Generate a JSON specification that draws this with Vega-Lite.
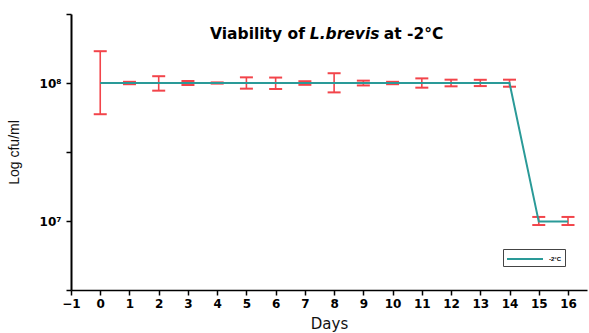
{
  "$schema": "https://vega.github.io/schema/vega-lite/v6.json",
  "width": 516,
  "height": 276,
  "autosize": {"type": "none"},
  "padding": {"left": 71, "top": 14, "right": 2, "bottom": 43},
  "background": "white",
  "config": {"view": {"stroke": null}, "font": "Liberation Sans"},
  "data": {"values": [
    {"day": 0, "mean": 100000000, "lo": 59400000, "hi": 170000000, "series": "-2°C"},
    {"day": 1, "mean": 100000000, "lo": 98000000, "hi": 102000000, "series": "-2°C"},
    {"day": 2, "mean": 100000000, "lo": 88000000, "hi": 112000000, "series": "-2°C"},
    {"day": 3, "mean": 100000000, "lo": 96700000, "hi": 103400000, "series": "-2°C"},
    {"day": 4, "mean": 100000000, "lo": 99000000, "hi": 101000000, "series": "-2°C"},
    {"day": 5, "mean": 100000000, "lo": 91000000, "hi": 109900000, "series": "-2°C"},
    {"day": 6, "mean": 100000000, "lo": 90500000, "hi": 109500000, "series": "-2°C"},
    {"day": 7, "mean": 100000000, "lo": 97000000, "hi": 103000000, "series": "-2°C"},
    {"day": 8, "mean": 100000000, "lo": 85500000, "hi": 117700000, "series": "-2°C"},
    {"day": 9, "mean": 100000000, "lo": 96000000, "hi": 104000000, "series": "-2°C"},
    {"day": 10, "mean": 100000000, "lo": 98000000, "hi": 102000000, "series": "-2°C"},
    {"day": 11, "mean": 100000000, "lo": 92500000, "hi": 108000000, "series": "-2°C"},
    {"day": 12, "mean": 100000000, "lo": 94600000, "hi": 105700000, "series": "-2°C"},
    {"day": 13, "mean": 100000000, "lo": 95000000, "hi": 105500000, "series": "-2°C"},
    {"day": 14, "mean": 100000000, "lo": 94000000, "hi": 105700000, "series": "-2°C"},
    {"day": 15, "mean": 9900000, "lo": 9350000, "hi": 10700000, "series": "-2°C"},
    {"day": 16, "mean": 9900000, "lo": 9350000, "hi": 10700000, "series": "-2°C"}
  ]},
  "encoding": {
    "x": {"field": "day", "type": "quantitative",
      "scale": {"domain": [-1, 16.65], "nice": false, "zero": false},
      "axis": {"values": [-1,0,1,2,3,4,5,6,7,8,9,10,11,12,13,14,15,16],
        "title": "Days", "titleFont": "DejaVu Sans", "titleFontSize": 15, "titleFontWeight": "normal", "titleColor": "#111",
        "titlePadding": 7, "labelFont": "DejaVu Sans", "labelFontSize": 12, "labelFontWeight": "bold", "labelColor": "#000",
        "labelFlush": false, "labelOverlap": false,
        "domainColor": "#000", "domainWidth": 1.5, "tickColor": "#000", "tickWidth": 1.5, "tickSize": 5,
        "labelPadding": 3, "grid": false}
    }
  },
  "layer": [
    {
      "mark": {"type": "rule", "color": "#f2444a", "strokeWidth": 1.6},
      "encoding": {
        "y": {"field": "lo", "type": "quantitative",
          "scale": {"type": "log", "domain": [3162277.66, 316227766], "nice": false},
          "axis": {"values": [3162277.66, 10000000, 31622776.6, 100000000, 316227766],
            "labelExpr": "datum.value == 100000000 ? '10⁸' : (datum.value == 10000000 ? '10⁷' : '')",
            "title": "Log cfu/ml", "titleFontSize": 14, "titleFontWeight": "normal", "titleColor": "#111",
            "titlePadding": 18, "labelFont": "DejaVu Sans", "labelFontSize": 12, "labelFontWeight": "bold", "labelColor": "#000",
            "domainColor": "#000", "domainWidth": 2, "tickColor": "#000", "tickWidth": 1.5, "tickSize": 5,
            "labelPadding": 5, "grid": false}},
        "y2": {"field": "hi"}
      }
    },
    {
      "mark": {"type": "tick", "orient": "horizontal", "color": "#f2444a", "size": 13, "thickness": 2, "opacity": 1},
      "encoding": {"y": {"field": "lo", "type": "quantitative"}}
    },
    {
      "mark": {"type": "tick", "orient": "horizontal", "color": "#f2444a", "size": 13, "thickness": 2, "opacity": 1},
      "encoding": {"y": {"field": "hi", "type": "quantitative"}}
    },
    {
      "mark": {"type": "line", "strokeWidth": 2},
      "encoding": {
        "y": {"field": "mean", "type": "quantitative"},
        "color": {"field": "series", "type": "nominal",
          "scale": {"range": ["#2a9a98"]},
          "legend": {"orient": "none", "legendX": 432, "legendY": 235, "title": null,
            "strokeColor": "#444", "padding": 3, "symbolType": "M-1,0H5", "symbolSize": 144,
            "symbolStrokeWidth": 2, "labelOffset": 29, "labelFontSize": 6, "labelFontWeight": "bold", "labelColor": "#000"}}
      }
    },
    {
      "transform": [{"filter": "datum.day == 0"}],
      "mark": {"type": "text", "align": "right", "baseline": "alphabetic", "font": "DejaVu Sans", "fontSize": 15.5, "fontWeight": "bold", "color": "#000"},
      "encoding": {"x": {"datum": 7.0}, "y": {"datum": 207000000}, "text": {"value": "Viability of"}}
    },
    {
      "transform": [{"filter": "datum.day == 0"}],
      "mark": {"type": "text", "align": "left", "baseline": "alphabetic", "font": "DejaVu Sans", "fontSize": 15.5, "fontWeight": "bold", "fontStyle": "italic", "color": "#000"},
      "encoding": {"x": {"datum": 7.17}, "y": {"datum": 207000000}, "text": {"value": "L.brevis"}}
    },
    {
      "transform": [{"filter": "datum.day == 0"}],
      "mark": {"type": "text", "align": "left", "baseline": "alphabetic", "font": "DejaVu Sans", "fontSize": 15.5, "fontWeight": "bold", "color": "#000"},
      "encoding": {"x": {"datum": 9.7}, "y": {"datum": 207000000}, "text": {"value": "at -2°C"}}
    }
  ]
}
